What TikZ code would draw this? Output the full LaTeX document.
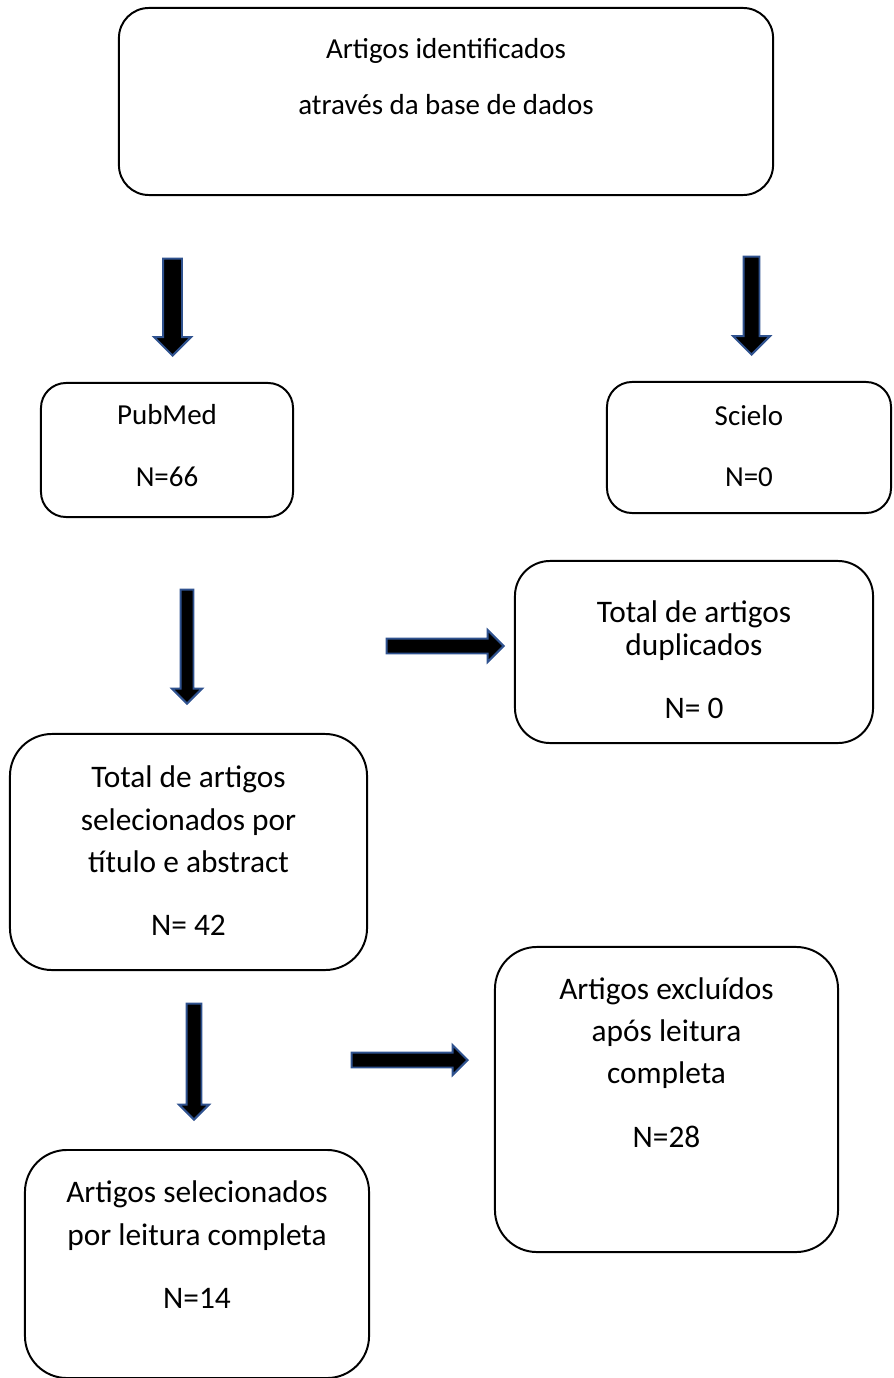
\documentclass[tikz,border=0pt]{standalone}
\usepackage{fontspec}
\setmainfont{Carlito}
\usepackage{xcolor}
\usepackage{tikz}
\usetikzlibrary{shapes.arrows}

\definecolor{arrowblue}{HTML}{2F528F}

\begin{document}
\begin{tikzpicture}[
  x=0.025cm, y=-0.025cm,
  box/.style={draw, line width=1.4pt, rounded corners=1.05cm, inner sep=0pt,
              align=center, text depth=0pt},
  smalltxt/.style={font=\fontsize{20.6pt}{#1}\selectfont},
  bigtxt/.style={font=\fontsize{22.3pt}{#1}\selectfont},
  blockarrow/.style={single arrow, draw=arrowblue, fill=black, line width=1.4pt,
                     inner xsep=0pt, anchor=tip},
]
  \useasboundingbox (0,0) rectangle (893,1378);

  % boxes
  \node[box, smalltxt=40.5pt, rounded corners=0.75cm, minimum width=16.35cm,
        minimum height=4.675cm, text height=19.2pt] (search) at (446,101.5)
    {Artigos identificados\\através da base de dados};
  \node[box, smalltxt=43.4pt, rounded corners=0.625cm, minimum width=6.3cm,
        minimum height=3.35cm, text height=51.2pt] (pubmed) at (167,450)
    {PubMed\\N=66};
  \node[box, smalltxt=43.4pt, rounded corners=0.625cm, minimum width=7.1cm,
        minimum height=3.275cm, text height=54.8pt] (scielo) at (749,447.5)
    {Scielo\\N=0};
  \node[box, bigtxt=22.8pt, rounded corners=0.875cm, minimum width=8.95cm,
        minimum height=4.55cm, text height=93.9pt] (dupl) at (694,652)
    {Total de artigos\\duplicados\\[22pt]N= 0};
  \node[box, bigtxt=29.9pt, minimum width=8.925cm,
        minimum height=5.9cm, text height=118.1pt] (screen) at (188.5,852)
    {Total de artigos\\selecionados por\\título e abstract\\[14.9pt]N= 42};
  \node[box, bigtxt=29.9pt, minimum width=8.575cm,
        minimum height=7.625cm, text height=67.6pt] (excl) at (666.5,1099.5)
    {Artigos excluídos\\após leitura\\completa\\[15pt]N=28};
  \node[box, bigtxt=30.6pt, minimum width=8.6cm,
        minimum height=5.7cm, text height=62.6pt] (incl) at (197,1264)
    {Artigos selecionados\\por leitura completa\\[14.2pt]N=14};

  % block arrows
  \node[blockarrow, rotate=-90, minimum height=2.425cm, inner ysep=0.2125cm,
        single arrow head extend=0.225cm] (arrPub) at (172.5,357) {};
  \node[blockarrow, rotate=-90, minimum height=2.45cm, inner ysep=0.175cm,
        single arrow head extend=0.2625cm] (arrSci) at (751.5,356) {};
  \node[blockarrow, rotate=-90, minimum height=2.85cm, inner ysep=0.1375cm,
        single arrow head extend=0.2125cm] (arrScreen) at (187,705) {};
  \node[blockarrow, minimum height=2.925cm, inner ysep=0.1625cm,
        single arrow head extend=0.2125cm] (arrDupl) at (505,646) {};
  \node[blockarrow, rotate=-90, minimum height=2.9cm, inner ysep=0.1625cm,
        single arrow head extend=0.1875cm] (arrIncl) at (194,1121) {};
  \node[blockarrow, minimum height=2.9cm, inner ysep=0.1625cm,
        single arrow head extend=0.1875cm] (arrExcl) at (469,1060) {};
\end{tikzpicture}
\end{document}
